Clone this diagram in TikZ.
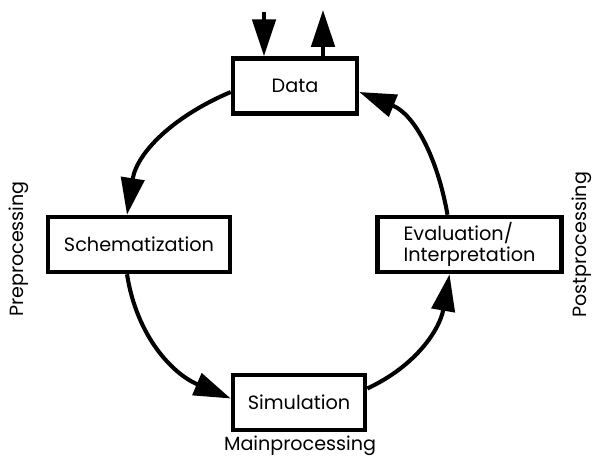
\documentclass[tikz,border=0pt]{standalone}
\usepackage{fontspec}
\setmainfont{Poppins}
\usepackage{tikz}
\usetikzlibrary{arrows.meta,calc}

\begin{document}
\begin{tikzpicture}[
  x=0.025cm, y=-0.025cm,
  stagebox/.style={draw=black, fill=white, line width=3.2pt, minimum height=1.375cm, inner sep=0pt, font=\fontsize{13.7}{14.5}\selectfont, align=left},
  cycle/.style={line width=2.9pt, -{Triangle[length=0.92cm, width=0.58cm]}},
  phase/.style={font=\fontsize{13.6}{14}\selectfont}
]

% Frame
\useasboundingbox (0,0) rectangle (596,458);

% Stage boxes
\node[stagebox, minimum width=3.1cm] (data) at (295,86) {Data};
\node[stagebox, minimum width=4.55cm] (schem) at (139,244.5) {Schematization};
\node[stagebox, minimum width=3.3cm] (sim) at (299,402.5) {Simulation};
\node[stagebox, minimum width=4.6cm] (eval) at (469.5,244.5) {Evaluation/\\Interpretation};

% Cycle
\draw[cycle] ([yshift=-0.15cm]data.west) to[out=203, in=81] ([xshift=-0.3cm]schem.north);
\draw[cycle] ([xshift=-0.3cm]schem.south) to[out=279, in=157] ([yshift=0.1cm]sim.west);
\draw[cycle] ([yshift=0.35cm]sim.east) to[out=25, in=260] ([xshift=-0.5cm]eval.south);
\draw[cycle] ([xshift=-0.55cm]eval.north) to[out=100, in=338] ([yshift=-0.15cm]data.east);

% In and out of the data
\coordinate (datain) at (264,12);
\coordinate (dataout) at (323,10);
\draw[cycle] (datain) -- (datain |- data.north);
\draw[cycle] (dataout |- data.north) -- (dataout);

% Phase labels
\node[phase, rotate=90] (pre) at (19,249) {Preprocessing};
\node[phase, rotate=90] (post) at (582,245) {Postprocessing};
\node[phase] (main) at (300,446) {Mainprocessing};

\end{tikzpicture}
\end{document}
